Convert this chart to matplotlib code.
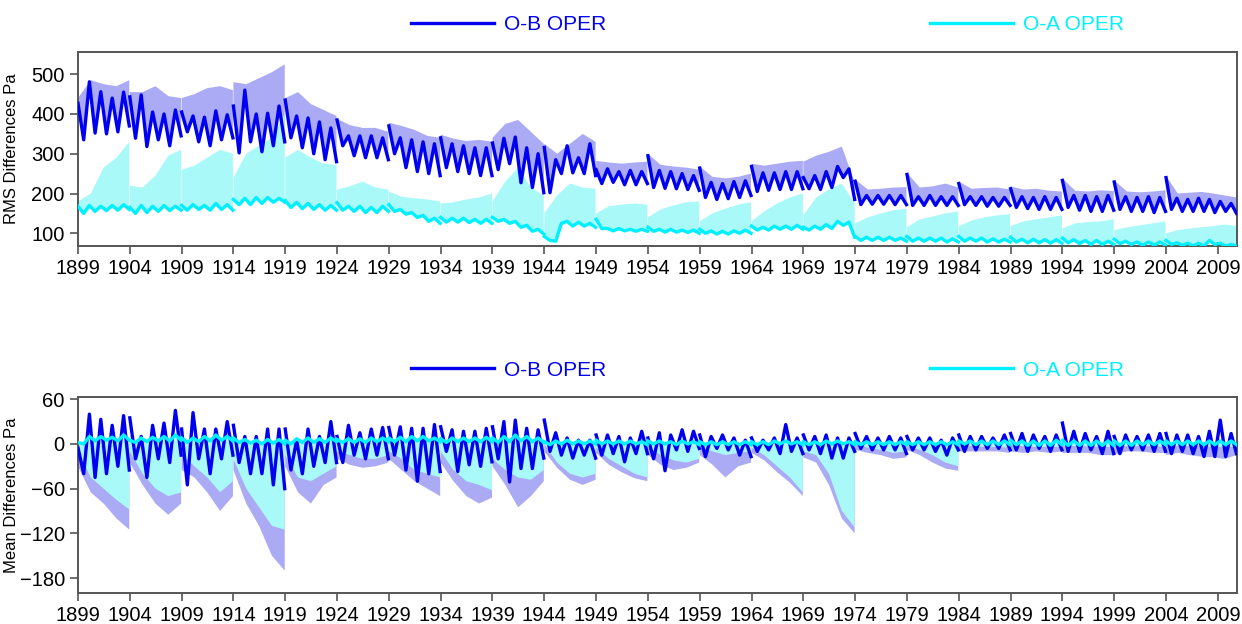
import numpy as np
import matplotlib
matplotlib.use("Agg")
import matplotlib.pyplot as plt
from matplotlib.lines import Line2D

plt.rcParams['font.family'] = ['Liberation Sans', 'DejaVu Sans']

# assimilation streams: start year and number of years in each
stream_start = [1899, 1904, 1909, 1914, 1919, 1924, 1929, 1934, 1939, 1944, 1949,
                1954, 1959, 1964, 1969, 1974, 1979, 1984, 1989, 1994, 1999, 2004]
stream_years = [5] * 21 + [7]
x_end = 2010.85

xticks = list(range(1899, 2010, 5))
rms_ticks = [100, 200, 300, 400, 500]
mean_ticks = [-180, -120, -60, 0, 60]

# RMS O-B OPER, winter peak / summer trough per year, one row per stream
rms_ob = [
    [427, 335, 481, 352, 456, 350, 440, 355, 455, 370],
    [443, 339, 448, 318, 405, 335, 400, 320, 410, 345],
    [405, 355, 395, 330, 392, 320, 408, 335, 398, 340],
    [420, 302, 460, 330, 400, 305, 402, 320, 420, 330],
    [435, 340, 395, 315, 390, 300, 380, 285, 365, 280],
    [385, 320, 345, 295, 345, 290, 345, 290, 340, 285],
    [370, 300, 340, 265, 335, 255, 330, 250, 325, 245],
    [340, 265, 325, 255, 320, 250, 315, 245, 315, 245],
    [327, 260, 339, 275, 342, 227, 315, 215, 300, 202],
    [316, 202, 285, 250, 320, 252, 290, 250, 325, 245],
    [260, 225, 262, 228, 255, 222, 258, 222, 255, 225],
    [295, 215, 258, 213, 255, 212, 250, 210, 245, 208],
    [264, 190, 228, 185, 225, 187, 230, 190, 232, 195],
    [268, 205, 252, 208, 252, 210, 255, 210, 255, 212],
    [240, 212, 245, 210, 255, 215, 268, 240, 262, 185],
    [231, 172, 195, 173, 195, 173, 195, 172, 195, 172],
    [248, 170, 192, 170, 195, 170, 192, 170, 192, 170],
    [225, 172, 192, 170, 192, 168, 190, 168, 190, 170],
    [212, 165, 192, 162, 190, 160, 192, 160, 190, 160],
    [233, 165, 195, 158, 195, 155, 192, 155, 195, 158],
    [229, 160, 192, 155, 190, 155, 192, 152, 190, 155],
    [240, 160, 188, 155, 185, 155, 188, 155, 185, 152, 180, 155, 175, 150],
]
# upper edge of the O-B shading, one value per year
rms_ob_top = [
    [440, 485, 475, 470, 485], [455, 455, 470, 445, 440], [440, 450, 465, 470, 460],
    [480, 475, 490, 505, 525], [440, 455, 425, 410, 395], [388, 372, 365, 365, 355],
    [378, 370, 360, 345, 340], [348, 338, 332, 335, 330], [340, 375, 385, 355, 325],
    [325, 300, 325, 350, 330], [282, 278, 275, 278, 280], [300, 272, 268, 265, 260],
    [268, 242, 238, 242, 250], [275, 270, 275, 280, 282], [280, 295, 305, 318, 228],
    [235, 210, 212, 215, 216], [252, 215, 218, 225, 215], [230, 212, 214, 215, 210],
    [218, 210, 212, 207, 205], [238, 207, 205, 208, 206], [233, 205, 203, 205, 208],
    [244, 200, 202, 204, 200, 195, 190],
]
# RMS O-A OPER, peak / trough per year
rms_oa = [
    [168, 150, 170, 155, 168, 157, 170, 158, 172, 160],
    [165, 150, 170, 152, 168, 155, 170, 157, 168, 158],
    [170, 158, 172, 160, 170, 158, 175, 160, 172, 158],
    [185, 172, 188, 172, 190, 175, 190, 178, 188, 178],
    [182, 165, 178, 162, 175, 160, 172, 158, 170, 158],
    [177, 158, 168, 155, 168, 152, 165, 152, 168, 155],
    [172, 155, 160, 148, 152, 140, 145, 130, 138, 125],
    [140, 128, 138, 128, 138, 127, 135, 125, 135, 125],
    [140, 130, 135, 125, 130, 115, 120, 105, 110, 98],
    [92, 82, 80, 125, 130, 118, 128, 118, 125, 115],
    [135, 112, 112, 106, 112, 106, 110, 105, 110, 105],
    [115, 105, 110, 103, 110, 103, 108, 102, 108, 100],
    [110, 100, 106, 98, 105, 98, 106, 100, 108, 100],
    [118, 108, 115, 108, 118, 110, 118, 110, 120, 110],
    [115, 108, 118, 110, 122, 112, 130, 120, 128, 90],
    [92, 82, 90, 82, 90, 82, 90, 82, 88, 80],
    [92, 80, 88, 80, 88, 80, 88, 78, 86, 78],
    [92, 80, 88, 80, 88, 78, 86, 78, 85, 78],
    [90, 78, 85, 76, 85, 76, 84, 75, 84, 75],
    [88, 76, 84, 74, 82, 72, 82, 72, 80, 72],
    [85, 74, 80, 72, 78, 70, 78, 70, 78, 70],
    [82, 72, 76, 70, 75, 68, 75, 68, 82, 72, 75, 68, 72, 68],
]
# upper edge of the O-A shading
rms_oa_top = [
    [180, 200, 265, 290, 330], [220, 215, 245, 295, 310], [260, 270, 290, 310, 300],
    [240, 300, 320, 340, 400], [290, 310, 290, 275, 272], [210, 218, 230, 215, 210],
    [205, 192, 188, 185, 180], [175, 178, 185, 190, 200], [180, 230, 265, 215, 195],
    [150, 195, 225, 215, 212], [150, 168, 172, 175, 172], [140, 160, 170, 178, 180],
    [130, 150, 162, 172, 178], [130, 155, 175, 190, 200], [145, 190, 210, 225, 175],
    [125, 140, 150, 158, 162], [115, 135, 142, 150, 155], [118, 132, 140, 145, 148],
    [118, 130, 135, 140, 145], [112, 125, 128, 130, 135], [108, 115, 120, 125, 130],
    [100, 108, 112, 115, 118, 122, 118],
]

# Mean O-B OPER, high / low per year
mean_ob = [
    [-5, -40, 40, -45, 33, -40, 25, -30, 38, -35],
    [35, -20, 10, -45, 25, -20, 28, -25, 45, -15],
    [20, -55, 42, -20, 20, -40, 20, -20, 30, -15],
    [25, -25, 10, -40, 10, -40, 20, -55, 20, -60],
    [20, -35, 5, -40, 20, -30, 10, -25, 30, -25],
    [10, -25, 25, -15, 15, -20, 20, -15, 22, -20],
    [22, -15, 23, -35, 21, -50, 21, -40, 26, -37],
    [23, -10, 19, -37, 17, -28, 17, -30, 21, -24],
    [23, -20, 30, -51, 32, -33, 21, -33, 19, -19],
    [32, -10, 15, -15, 8, -19, 5, -15, 5, -19],
    [12, -15, 12, -13, 10, -24, 8, -13, 17, -13],
    [8, -20, 15, -36, 12, -8, 19, -10, 17, -6],
    [12, -17, 10, -6, 12, -8, 8, -15, 5, -17],
    [8, -10, 5, -8, 8, -13, 26, -10, 8, -13],
    [12, -8, 10, -13, 12, -19, 8, -19, 8, -10],
    [14, -6, 10, -8, 8, -8, 10, -8, 8, -13],
    [10, -8, 8, -8, 8, -10, 5, -15, 8, -8],
    [12, -10, 10, -8, 10, -6, 8, -6, 12, -8],
    [14, -8, 14, -10, 12, -6, 10, -10, 12, -8],
    [28, -10, 17, -10, 14, -8, 10, -13, 17, -13],
    [10, -13, 12, -8, 10, -8, 12, -10, 14, -10],
    [14, -13, 12, -10, 12, -13, 10, -17, 17, -17, 32, -17, 14, -13],
]
# lower edge of the O-B shading
mean_ob_low = [
    [-30, -65, -80, -100, -115], [-25, -55, -80, -95, -80], [-35, -45, -65, -90, -70],
    [-35, -80, -110, -150, -170], [-30, -65, -80, -55, -45], [-20, -28, -32, -30, -25],
    [-20, -35, -50, -60, -70], [-25, -50, -70, -80, -72], [-30, -55, -85, -70, -50],
    [-10, -32, -48, -55, -48], [-12, -28, -38, -46, -50], [-15, -28, -35, -32, -25],
    [-15, -28, -45, -30, -25], [-12, -22, -38, -52, -70], [-18, -25, -55, -100, -120],
    [-8, -12, -15, -20, -18], [-8, -15, -25, -33, -36], [-10, -10, -10, -10, -12],
    [-10, -12, -10, -12, -10], [-12, -12, -12, -15, -15], [-14, -10, -10, -12, -12],
    [-15, -12, -15, -17, -18, -20, -15],
]
# Mean O-A OPER, peak / trough per year
mean_oa = [
    [2, 0, 10, 4, 10, 5, 9, 4, 12, 5],
    [5, 2, 8, 3, 9, 4, 10, 4, 12, 5],
    [8, 2, 8, 3, 10, 4, 12, 5, 10, 4],
    [8, 2, 6, 1, 5, 0, 6, 1, 6, 0],
    [5, 0, 7, 2, 8, 2, 7, 2, 8, 3],
    [6, 2, 7, 2, 7, 2, 8, 3, 8, 3],
    [8, 3, 9, 3, 10, 4, 10, 4, 8, 3],
    [7, 2, 8, 3, 8, 3, 8, 3, 9, 3],
    [8, 2, 10, 3, 12, 4, 10, 3, 8, 2],
    [3, -1, 4, 0, 5, 0, 4, 0, 4, 0],
    [5, 0, 4, 0, 4, 0, 4, 0, 3, -1],
    [4, 0, 4, 0, 3, -1, 4, 0, 3, -1],
    [3, -1, 3, -1, 3, -1, 3, -1, 3, -1],
    [3, -1, 3, -1, 4, 0, 4, 0, 3, -1],
    [3, -1, 3, -1, 4, 0, 4, 0, 3, -1],
    [3, -1, 3, -1, 3, -1, 3, -1, 3, -1],
    [3, -1, 3, -1, 3, -1, 3, -1, 3, -1],
    [4, 0, 4, -1, 4, -1, 4, -1, 4, -1],
    [5, -1, 4, -2, 4, -2, 4, -2, 5, -1],
    [5, -2, 4, -2, 4, -2, 4, -2, 4, -2],
    [4, -2, 4, -2, 4, -1, 4, -1, 4, -1],
    [4, -1, 4, -1, 4, -1, 4, -1, 4, -1, 4, -1, 4, -1],
]
# lower edge of the O-A shading
mean_oa_low = [
    [-10, -45, -60, -75, -88], [-10, -40, -60, -70, -65], [-15, -30, -45, -65, -50],
    [-20, -60, -85, -110, -115], [-15, -45, -50, -40, -30], [-10, -15, -20, -20, -15],
    [-10, -20, -35, -40, -45], [-10, -35, -50, -55, -62], [-20, -35, -45, -48, -35],
    [0, -25, -40, -45, -40], [-5, -20, -30, -40, -45], [-5, -15, -22, -25, -20],
    [-5, -10, -15, -12, -10], [-5, -15, -30, -45, -65], [-10, -15, -40, -90, -112],
    [0, -5, -8, -12, -10], [-3, -8, -15, -25, -30], [-2, -3, -4, -4, -5],
    [-2, -3, -4, -4, -4], [-2, -3, -3, -4, -4], [-2, -3, -3, -3, -4],
    [-2, -3, -3, -3, -4, -4, -4],
]

BLUE = '#0000f0'
CYAN = '#00f0ff'
LAV = '#aaaaf5'
PALE = '#aaf9f9'
GREY = '#555555'


def stream_times(k, per_year):
    s = stream_start[k]
    e = min(s + stream_years[k], x_end) - 0.05
    return np.linspace(s, e, stream_years[k] * per_year)


def draw_panel(ax, ob, ob_edge, oa, oa_edge, lav_from_oa=False):
    for k in range(len(stream_start)):
        t2 = stream_times(k, 2)
        t1 = stream_times(k, 1)
        base = oa[k] if lav_from_oa else ob[k]
        ax.fill(np.r_[t2, t1[::-1]], np.r_[base, ob_edge[k][::-1]],
                color=LAV, lw=0, zorder=1)
        ax.fill(np.r_[t2, t1[::-1]], np.r_[oa[k], oa_edge[k][::-1]],
                color=PALE, lw=0, zorder=2)
    for k in range(len(stream_start)):
        t2 = stream_times(k, 2)
        ax.plot(t2, ob[k], color=BLUE, lw=2.4, zorder=3)
        ax.plot(t2, oa[k], color=CYAN, lw=2.4, zorder=4)
    ax.set_xlim(1899, x_end)
    ax.set_xticks(xticks)
    ax.tick_params(direction='out', length=6, width=1.2, color=GREY,
                   labelsize=14.5, top=False, right=False)
    for sp in ax.spines.values():
        sp.set_color(GREY)
        sp.set_linewidth(1.4)


fig = plt.figure(figsize=(12.42, 6.24), dpi=100)
ax1 = fig.add_axes([0.0628, 0.6058, 0.9332, 0.3109])
ax2 = fig.add_axes([0.0628, 0.0497, 0.9332, 0.3141])

draw_panel(ax1, rms_ob, rms_ob_top, rms_oa, rms_oa_top)
ax1.set_ylim(68, 556)
ax1.set_yticks(rms_ticks)
ax1.set_ylabel('RMS Differences Pa', fontsize=12)
ax1.yaxis.set_label_coords(-0.051, 0.5)

draw_panel(ax2, mean_ob, mean_ob_low, mean_oa, mean_oa_low, lav_from_oa=True)
ax2.set_ylim(-200, 63)
ax2.set_yticks(mean_ticks)
ax2.set_ylabel('Mean Differences Pa', fontsize=12)
ax2.yaxis.set_label_coords(-0.051, 0.5)

handles = [Line2D([], [], color=BLUE, lw=2.4), Line2D([], [], color=CYAN, lw=2.4)]
for ypos in (0.96, 0.407):
    fig.legend(handles, ['O-B OPER', 'O-A OPER'], loc='center',
               bbox_to_anchor=(0.618, ypos), ncol=2, frameon=False,
               fontsize=15, handlelength=4.0, handletextpad=0.5,
               columnspacing=15.5, labelcolor='linecolor')

fig.savefig('out.png', dpi=100)
